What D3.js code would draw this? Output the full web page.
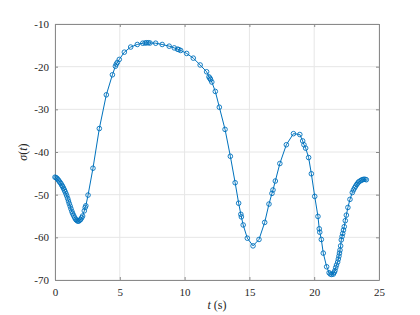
<!DOCTYPE html>
<html lang="en">
<head>
    <meta charset="UTF-8">
    <title>sigma(t)</title>
    <style>
        body { margin: 0; background: #fff; }
    </style>
</head>
<body>
    <svg width="420" height="315"></svg>
    <script src="https://d3js.org/d3.v7.min.js"></script>
    <script>

        let tValues = [0.00, 0.08, 0.16, 0.24, 0.31, 0.38, 0.46, 0.53, 0.59, 0.66, 0.72, 0.78, 0.85, 0.91,
            0.98, 1.04, 1.10, 1.17, 1.23, 1.30, 1.36, 1.44, 1.52, 1.60, 1.67, 1.75, 1.83, 1.91, 1.98,
            2.06, 2.13, 2.26, 2.33, 2.38, 2.55, 2.93, 3.42, 3.96, 4.43, 4.66, 4.73, 4.81, 4.96, 5.35,
            5.84, 6.35, 6.77, 6.95, 7.07, 7.20, 7.33, 7.77, 8.27, 8.81, 9.20, 9.45, 9.55, 9.70, 10.16,
            10.67, 11.20, 11.70, 11.88, 11.95, 12.00, 12.10, 12.37, 12.68, 13.12, 13.53, 13.90, 14.17,
            14.34, 14.38, 14.52, 14.84, 15.28, 15.74, 16.18, 16.51, 16.74, 16.82, 17.00, 17.35, 17.85,
            18.40, 18.89, 19.11, 19.21, 19.34, 19.57, 19.78, 20.04, 20.29, 20.39, 20.43, 20.55, 20.70,
            20.96, 21.15, 21.24, 21.35, 21.48, 21.55, 21.60, 21.66, 21.72, 21.81, 21.86, 21.91, 21.95,
            21.99, 22.04, 22.09, 22.15, 22.20, 22.26, 22.32, 22.40, 22.48, 22.60, 22.76, 22.94, 23.03,
            23.12, 23.20, 23.28, 23.36, 23.43, 23.54, 23.64, 23.72, 23.82, 23.92, 24.02];

        let sigmaValues = [-45.9, -46.0, -46.2, -46.5, -46.8, -47.1, -47.4, -47.8, -48.1, -48.5, -48.9, -49.3, -49.8, -50.3,
            -50.9, -51.5, -52.1, -52.7, -53.3, -53.9, -54.4, -54.9, -55.4, -55.8, -56.0, -56.2, -56.2, -56.0, -55.8,
            -55.4, -55.0, -53.8, -53.0, -52.6, -50.1, -43.8, -34.5, -26.6, -21.9, -19.9, -19.4, -19.0, -18.3, -16.6,
            -15.4, -14.8, -14.5, -14.45, -14.4, -14.4, -14.45, -14.5, -14.8, -15.2, -15.6, -15.9, -16.0, -16.2, -16.9,
            -18.0, -19.6, -21.2, -22.4, -22.7, -23.0, -23.6, -25.8, -29.5, -34.7, -41.0, -47.2, -52.0,
            -54.6, -55.2, -57.1, -60.2, -62.0, -60.5, -56.5, -52.2, -49.7, -48.9, -46.8, -42.7, -38.3,
            -35.7, -35.9, -37.4, -38.3, -39.1, -41.3, -45.1, -50.4, -55.1, -58.0, -58.8, -60.5, -63.7,
            -66.9, -68.3, -68.6, -68.7, -68.6, -68.2, -67.8, -67.1, -66.5, -65.8, -65.1, -64.4, -63.7,
            -63.0, -62.0, -60.6, -59.8, -59.1, -58.3, -57.5, -56.1, -54.8, -53.0, -51.1, -49.5, -48.9,
            -48.4, -48.0, -47.6, -47.3, -47.0, -46.8, -46.6, -46.5, -46.4, -46.4, -46.5];

        let xTicks = [0, 5, 10, 15, 20, 25];
        let yTicks = [-70, -60, -50, -40, -30, -20, -10];

        const FONT = "Liberation Serif, Times New Roman, serif";

        let margin = { top: 24, right: 41, bottom: 35, left: 55 },
            width = 420 - margin.left - margin.right,
            height = 315 - margin.top - margin.bottom;

        let svg = d3.select("svg").attr("font-family", FONT);
        let g = svg.append("g").attr("transform", `translate(${margin.left},${margin.top})`);

        let x = d3.scaleLinear().domain([0, 25]).range([0, width]);
        let y = d3.scaleLinear().domain([-70, -10]).range([height, 0]);

        // grid
        g.append("g").selectAll("line").data(xTicks).join("line")
            .attr("x1", d => x(d)).attr("x2", d => x(d))
            .attr("y1", 0).attr("y2", height)
            .attr("stroke", "#e6e6e6").attr("stroke-width", 1);
        g.append("g").selectAll("line").data(yTicks).join("line")
            .attr("x1", 0).attr("x2", width)
            .attr("y1", d => y(d)).attr("y2", d => y(d))
            .attr("stroke", "#e6e6e6").attr("stroke-width", 1);

        // axes, ticks inward on all sides
        let styleAxis = function (sel) {
            sel.attr("font-family", FONT);
            sel.select(".domain").attr("stroke", "#8a8a8a");
            sel.selectAll(".tick line").attr("stroke", "#8a8a8a");
            sel.selectAll("text").attr("font-size", 11).attr("fill", "#262626");
        };
        let plain = d => String(d);   // keep the ascii hyphen like the original

        g.append("g").attr("transform", `translate(0,${height})`)
            .call(d3.axisBottom(x).tickValues(xTicks).tickFormat(plain).tickSizeInner(-3).tickSizeOuter(0).tickPadding(8))
            .call(styleAxis);
        g.append("g")
            .call(d3.axisTop(x).tickValues(xTicks).tickSizeInner(-3).tickSizeOuter(0).tickFormat(""))
            .call(styleAxis);
        g.append("g")
            .call(d3.axisLeft(y).tickValues(yTicks).tickFormat(plain).tickSizeInner(-3).tickSizeOuter(0).tickPadding(6))
            .call(styleAxis);
        g.append("g").attr("transform", `translate(${width},0)`)
            .call(d3.axisRight(y).tickValues(yTicks).tickSizeInner(-3).tickSizeOuter(0).tickFormat(""))
            .call(styleAxis);

        // data
        let data = tValues.map((t, i) => ({ t: t, s: sigmaValues[i] }));

        g.append("path").datum(data)
            .attr("fill", "none")
            .attr("stroke", "#0072BD")
            .attr("stroke-width", 1)
            .attr("d", d3.line().x(d => x(d.t)).y(d => y(d.s)));

        g.append("g").selectAll("circle").data(data).join("circle")
            .attr("cx", d => x(d.t)).attr("cy", d => y(d.s))
            .attr("r", 2.3)
            .attr("fill", "none")
            .attr("stroke", "#0072BD")
            .attr("stroke-width", 0.9);

        // labels
        let xl = svg.append("text")
            .attr("x", margin.left + width / 2).attr("y", 309)
            .attr("text-anchor", "middle").attr("font-size", 12).attr("fill", "#262626");
        xl.append("tspan").attr("font-style", "italic").text("t");
        xl.append("tspan").text(" (s)");

        let yl = svg.append("text")
            .attr("transform", `translate(27,${margin.top + height / 2}) rotate(-90)`)
            .attr("text-anchor", "middle").attr("font-size", 12).attr("fill", "#262626");
        yl.append("tspan").attr("font-style", "italic").text("σ");
        yl.append("tspan").text("(");
        yl.append("tspan").attr("font-style", "italic").text("t");
        yl.append("tspan").text(")");

    </script>
</body>
</html>
